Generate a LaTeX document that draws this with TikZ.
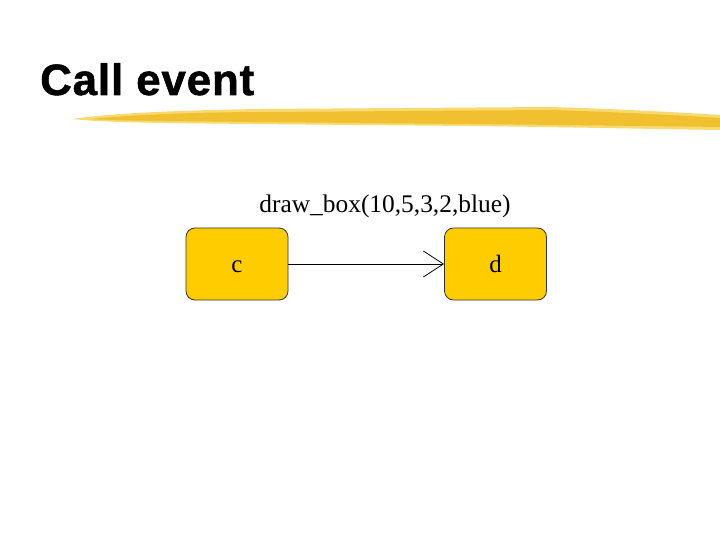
\documentclass[tikz,border=0pt]{standalone}
\usepackage{fontspec}
\setmainfont{Liberation Serif}
\newfontfamily\titlefont[FakeBold=1.2,LetterSpace=2]{Liberation Sans Bold}
\usetikzlibrary{arrows.meta}
\definecolor{boxfill}{HTML}{FFCC00}
\definecolor{brush}{HTML}{F0C030}
\definecolor{brushlight}{HTML}{F8DA70}
\tikzset{
  statebox/.style={draw=black!80, line width=0.8bp, fill=boxfill, rounded corners=9bp,
    minimum width=102bp, minimum height=72bp, inner sep=0pt, font=\fontsize{25}{29}\selectfont},
  conn/.style={draw=black, line width=0.8bp, -{Straight Barb[length=20bp,width=26bp,line width=0.8bp]}},
  lbl/.style={font=\fontsize{25.5}{29}\selectfont, inner sep=0pt},
  titletext/.style={font=\titlefont\fontsize{44}{50}\selectfont, inner sep=0pt, anchor=base west}
}
\begin{document}
\begin{tikzpicture}[x=1bp,y=-1bp]
\useasboundingbox (0,0) rectangle (720,540);
% title
\node[titletext] (title) at (40,95) {Call event};
% brush stroke
\fill[brushlight] (72,119) .. controls (120,112) and (200,110) .. (260,109)
  -- (550,107) .. controls (620,109) and (690,113) .. (720,115) -- (720,130)
  .. controls (650,129) and (560,127) .. (470,126) -- (250,124) .. controls (170,123) and (110,123) .. (72,119) -- cycle;
\fill[brush] (90,119) .. controls (140,114) and (210,112) .. (270,112)
  -- (550,110) .. controls (620,112) and (690,116) .. (720,118) -- (720,127)
  .. controls (650,126) and (560,125) .. (470,124) -- (250,122) .. controls (180,121) and (120,121) .. (90,119) -- cycle;
% boxes
\node[statebox] (c) at (237,264) {\vphantom{d}c};
\node[statebox] (d) at (495.5,264) {d};
\draw[conn] (c.east) -- (d.west);
\node[lbl] (label) at (385,206) {draw\_box(10,5,3,2,blue)};
\end{tikzpicture}
\end{document}
